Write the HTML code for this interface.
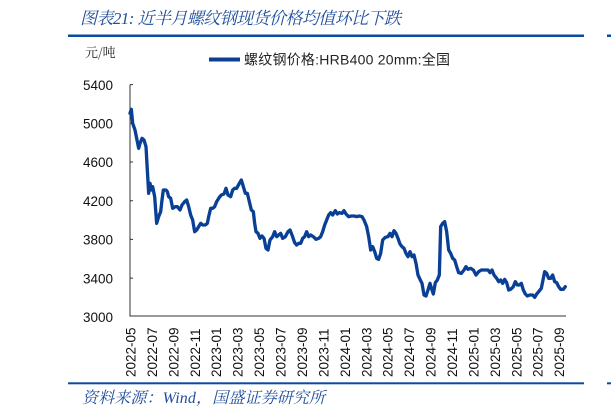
<!DOCTYPE html>
<html><head><meta charset="utf-8"><style>
html,body{margin:0;padding:0;background:#fff;}
svg{display:block;}
</style></head><body>
<svg width="611" height="416" viewBox="0 0 611 416" xmlns="http://www.w3.org/2000/svg">
<text x="80" y="24" font-family="Liberation Serif, 'Noto Serif CJK SC', serif" font-style="italic" font-size="17" fill="#1f4e9c" textLength="321">图表21:  近半月螺纹钢现货价格均值环比下跌</text>
<rect x="68" y="34.5" width="516" height="2.5" fill="#0a4aa0"/>
<rect x="607" y="34.5" width="4" height="2.5" fill="#0a4aa0"/>
<text x="85" y="57" font-family="'Noto Serif CJK SC', serif" font-size="13" fill="#222">元/吨</text>
<line x1="209" y1="59.5" x2="240" y2="59.5" stroke="#0a3f96" stroke-width="4"/>
<text x="244" y="64.5" font-family="'Liberation Sans','Noto Sans CJK SC',sans-serif" font-size="14" fill="#222" textLength="206">螺纹钢价格:HRB400 20mm:全国</text>
<g font-family="'Liberation Sans',sans-serif" font-size="13.5" fill="#111" text-anchor="end">
<text x="113" y="90">5400</text>
<text x="113" y="128.5">5000</text>
<text x="113" y="167.2">4600</text>
<text x="113" y="205.9">4200</text>
<text x="113" y="244.6">3800</text>
<text x="113" y="283.3">3400</text>
<text x="113" y="322">3000</text>
</g>
<path d="M130 84.6V316H566" fill="none" stroke="#333" stroke-width="1"/>
<path d="M130 84.6h3M130 123.3h3M130 162h3M130 200.7h3M130 239.4h3M130 278.1h3" stroke="#333" stroke-width="1"/>
<g font-family="'Liberation Sans',sans-serif" font-size="13.5" fill="#111">
<text transform="translate(135.5,377) rotate(-90)">2022-05</text>
<text transform="translate(156.9,377) rotate(-90)">2022-07</text>
<text transform="translate(178.4,377) rotate(-90)">2022-09</text>
<text transform="translate(199.8,377) rotate(-90)">2022-11</text>
<text transform="translate(221.2,377) rotate(-90)">2023-01</text>
<text transform="translate(242.7,377) rotate(-90)">2023-03</text>
<text transform="translate(264.1,377) rotate(-90)">2023-05</text>
<text transform="translate(285.5,377) rotate(-90)">2023-07</text>
<text transform="translate(307,377) rotate(-90)">2023-09</text>
<text transform="translate(328.4,377) rotate(-90)">2023-11</text>
<text transform="translate(349.8,377) rotate(-90)">2024-01</text>
<text transform="translate(371.3,377) rotate(-90)">2024-03</text>
<text transform="translate(392.7,377) rotate(-90)">2024-05</text>
<text transform="translate(414.1,377) rotate(-90)">2024-07</text>
<text transform="translate(435.6,377) rotate(-90)">2024-09</text>
<text transform="translate(457,377) rotate(-90)">2024-11</text>
<text transform="translate(478.4,377) rotate(-90)">2025-01</text>
<text transform="translate(499.9,377) rotate(-90)">2025-03</text>
<text transform="translate(521.3,377) rotate(-90)">2025-05</text>
<text transform="translate(542.7,377) rotate(-90)">2025-07</text>
<text transform="translate(564.2,377) rotate(-90)">2025-09</text>
</g>
<g transform="translate(60,90) scale(0.33333)">
<polyline fill="none" stroke="#0a3f96" stroke-width="10" stroke-linejoin="round" stroke-linecap="round" points="210,70 214,58 218,100 225,120 230,145 236,175 240,160 246,145 252,150 258,170 262,240 266,310 270,280 274,300 278,290 284,320 290,400 296,380 302,365 306,330 310,300 318,300 322,305 326,320 332,325 338,355 346,350 352,350 360,360 366,345 374,335 380,330 386,350 392,375 398,390 404,425 410,420 416,410 422,400 428,405 436,405 442,400 446,380 452,355 458,355 464,350 470,335 478,322 484,315 492,312 498,295 504,315 512,320 518,300 524,295 530,295 538,280 544,270 550,290 556,310 562,310 568,335 574,360 580,365 584,400 588,425 594,430 600,445 606,438 612,445 618,475 624,480 630,450 638,440 644,425 650,440 656,435 662,430 668,445 676,440 684,425 690,420 696,435 704,458 710,465 716,460 722,460 728,445 734,440 740,425 746,440 752,435 760,440 768,448 776,445 782,440 788,425 794,405 800,390 806,375 812,368 818,375 826,362 832,372 838,368 846,370 852,362 858,372 866,380 874,378 882,378 890,380 898,378 906,380 912,390 920,410 926,440 932,480 938,470 944,485 950,505 956,508 962,490 968,450 976,442 984,440 990,430 996,440 1002,422 1008,430 1014,445 1020,462 1026,470 1032,475 1038,490 1044,500 1050,485 1056,500 1062,495 1068,520 1074,555 1080,568 1086,580 1092,615 1098,618 1104,600 1110,580 1116,600 1120,612 1126,578 1132,570 1138,555 1142,410 1148,400 1154,395 1160,425 1166,480 1172,490 1178,505 1184,510 1190,530 1196,548 1204,550 1212,540 1218,530 1224,538 1232,535 1240,540 1248,555 1256,545 1264,540 1274,540 1284,540 1290,548 1296,540 1302,555 1310,565 1316,575 1322,570 1328,580 1334,568 1340,578 1346,600 1352,598 1360,590 1366,575 1372,585 1378,585 1384,580 1390,600 1396,612 1402,618 1410,615 1418,615 1424,622 1430,612 1436,605 1444,595 1450,565 1454,545 1460,550 1466,565 1472,565 1478,555 1484,575 1490,578 1496,590 1502,598 1510,598 1516,590"/>
</g>
<rect x="68" y="382.3" width="516" height="2" fill="#0a4aa0"/>
<rect x="607" y="382.3" width="4" height="2" fill="#0a4aa0"/>
<text x="82" y="403" font-family="'Liberation Serif','Noto Serif CJK SC',serif" font-style="italic" font-size="16" fill="#1f4e9c" textLength="243">资料来源：Wind，国盛证券研究所</text>
</svg>
</body></html>
